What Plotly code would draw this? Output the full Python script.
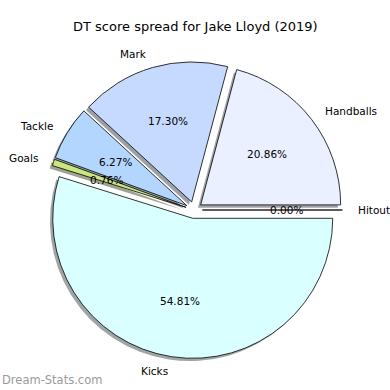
import math
import plotly.graph_objects as go

title = "DT score spread for Jake Lloyd (2019)"
categories = ["Hitout", "Handballs", "Mark", "Tackle", "Goals", "Kicks"]
percents = [0.00, 20.86, 17.30, 6.27, 0.76, 54.81]
colors = ["#D0D0FF", "#EAF0FF", "#C6D9FF", "#B3D6FF", "#C9E67F", "#D9FFFF"]
explode = [0.06] * len(categories)

W = H = 390
CX, CY, R = 194, 210, 140       # pie centre and radius in pixels
BOX = R * (2 + 2 * max(explode))


def dom(cx, cy):
    return dict(x=[(cx - BOX / 2) / W, (cx + BOX / 2) / W],
                y=[1 - (cy + BOX / 2) / H, 1 - (cy - BOX / 2) / H])


fig = go.Figure()
# shadow
shadow_cols = []
for c in colors:
    r, g, b = int(c[1:3], 16), int(c[3:5], 16), int(c[5:7], 16)
    shadow_cols.append("rgb(%d,%d,%d)" % tuple(int(0.15 * v + 127.5) for v in (r, g, b)))
fig.add_trace(go.Pie(labels=categories, values=percents, sort=False,
                     direction="counterclockwise", rotation=90, pull=explode,
                     marker=dict(colors=shadow_cols, line=dict(width=0)),
                     textinfo="none", hoverinfo="skip", showlegend=False,
                     domain=dom(CX - 2.8, CY + 2.8)))
fig.add_trace(go.Pie(labels=categories, values=percents, sort=False,
                     direction="counterclockwise", rotation=90, pull=explode,
                     marker=dict(colors=colors, line=dict(width=0.8, color="black")),
                     textinfo="none", showlegend=False,
                     domain=dom(CX, CY)))

total = sum(percents)
cum = 0.0
for cat, p, e in zip(categories, percents, explode):
    t1 = 360 * cum / total
    cum += p
    t2 = 360 * cum / total
    mid = math.radians((t1 + t2) / 2)
    dx, dy = math.cos(mid), math.sin(mid)
    ox, oy = CX + e * R * dx, CY - e * R * dy
    lx, ly = ox + 1.1 * R * dx, oy - 1.1 * R * dy
    px, py = ox + 0.6 * R * dx, oy - 0.6 * R * dy
    fig.add_annotation(x=lx / W, y=1 - ly / H, xref="paper", yref="paper",
                       text=cat, showarrow=False,
                       xanchor="left" if dx > 0 else "right", yanchor="middle",
                       font=dict(size=10.5, color="black"))
    fig.add_annotation(x=px / W, y=1 - py / H, xref="paper", yref="paper",
                       text="%.2f%%" % p, showarrow=False,
                       xanchor="center", yanchor="middle",
                       font=dict(size=10.5, color="black"))

fig.add_annotation(x=0.5, y=1 - 27 / H, xref="paper", yref="paper", text=title,
                   showarrow=False, xanchor="center", yanchor="middle",
                   font=dict(size=13, color="black"))
fig.add_annotation(x=0, y=1 - 380 / H, xref="paper", yref="paper", text="Dream-Stats.com",
                   showarrow=False, xanchor="left", yanchor="middle",
                   font=dict(size=11.5, color="#9a9a9a"))

fig.update_layout(width=W, height=H, margin=dict(l=0, r=0, t=0, b=0),
                  paper_bgcolor="white", plot_bgcolor="white",
                  font=dict(family="DejaVu Sans"))
fig.write_html("out.html", config={"displayModeBar": False},
               post_script="document.body.style.margin='0';document.body.style.overflow='hidden';")
